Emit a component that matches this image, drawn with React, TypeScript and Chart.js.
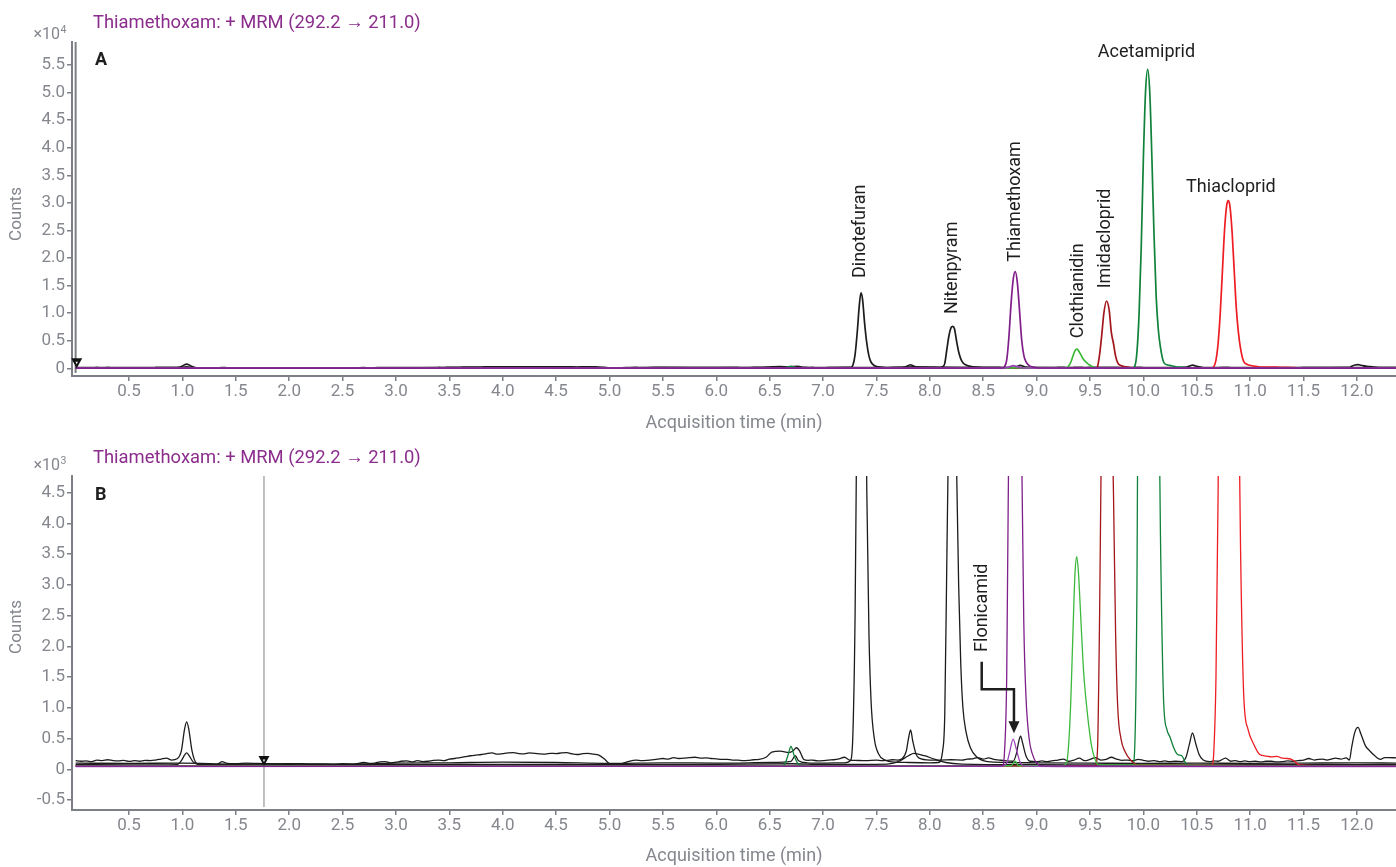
import React, { useEffect, useRef } from 'react';
import { Chart, registerables } from 'chart.js';

Chart.register(...registerables);
Chart.defaults.font.family = 'Roboto';

type Pt = [number, number];

// ---------- DATA (time in min, intensity in counts) ----------
const thiamethoxamSeries: Pt[] = [
  [0, 50], [2, 48], [4, 52], [6, 50], [8.0, 50], [8.68, 55], [8.70, 300], [8.72, 1500], [8.74, 5500],
  [8.76, 11500], [8.78, 16000], [8.80, 17540], [8.82, 15500], [8.84, 10500], [8.86, 5200], [8.88, 2400],
  [8.90, 1200], [8.93, 500], [8.96, 250], [9.00, 100], [9.05, 55], [10, 50], [12.37, 50],
];

const flonicamidSeries: Pt[] = [
  [0, 45], [8.66, 48], [8.72, 100], [8.75, 300], [8.78, 490], [8.81, 330], [8.84, 140], [8.88, 55],
  [9.2, 45], [12.37, 45],
];

const clothianidinSeries: Pt[] = [
  [0, 55], [3, 55], [6, 55], [8.76, 58], [8.80, 130], [8.83, 60], [9.25, 60], [9.28, 100], [9.30, 400],
  [9.32, 1100], [9.34, 2200], [9.36, 3200], [9.376, 3460], [9.39, 3250], [9.40, 2950], [9.42, 2250],
  [9.44, 1600], [9.47, 1000], [9.50, 550], [9.52, 330], [9.55, 150], [9.58, 70], [12.37, 55],
];

const imidaclopridSeries: Pt[] = [
  [0, 55], [5, 55], [9.50, 55], [9.55, 60], [9.57, 300], [9.59, 2500], [9.61, 6000], [9.63, 10000],
  [9.655, 12200], [9.68, 10500], [9.70, 6500], [9.72, 4500], [9.74, 2200], [9.76, 1000], [9.79, 500],
  [9.83, 280], [9.88, 150], [9.95, 70], [12.37, 55],
];

const acetamipridSeries: Pt[] = [
  [0, 55], [6.6, 55], [6.64, 80], [6.67, 220], [6.70, 370], [6.73, 220], [6.77, 80], [6.82, 55],
  [9.88, 55], [9.90, 60], [9.92, 400], [9.94, 3000], [9.96, 10000], [9.98, 22000], [10.00, 38000],
  [10.02, 50000], [10.04, 54200], [10.06, 50000], [10.08, 38000], [10.10, 24000], [10.12, 13000],
  [10.14, 7000], [10.16, 3800], [10.19, 1100], [10.22, 650], [10.25, 520], [10.28, 370], [10.32, 240],
  [10.36, 220], [10.39, 120], [10.41, 60], [12.37, 55],
];

const thiaclopridSeries: Pt[] = [
  [0, 60], [4, 60], [8, 60], [10.64, 60], [10.66, 300], [10.68, 1500], [10.70, 4500], [10.72, 10000],
  [10.74, 17500], [10.76, 25000], [10.78, 29500], [10.795, 30400], [10.81, 29500], [10.83, 25000],
  [10.85, 18000], [10.87, 11000], [10.89, 6500], [10.91, 3600], [10.94, 1200], [10.98, 650],
  [11.03, 420], [11.09, 240], [11.15, 215], [11.2, 200], [11.25, 210], [11.3, 180], [11.35, 175],
  [11.4, 150], [11.46, 70], [11.6, 60], [12.37, 60],
];

const dinotefuranNitenpyramSeries: Pt[] = [
  [0, 100], [0.5, 95], [1.0, 100], [1.5, 85], [2.0, 90], [2.5, 85], [3.0, 100], [3.5, 105], [4.0, 115],
  [4.5, 110], [5.0, 95], [5.5, 105], [6.0, 100], [6.5, 110], [6.7, 130], [6.74, 220], [6.77, 140],
  [6.85, 105], [7.0, 100], [7.2, 105], [7.26, 150], [7.28, 600], [7.30, 2500], [7.32, 6500],
  [7.34, 11500], [7.355, 13700], [7.37, 12500], [7.39, 8000], [7.41, 4500], [7.43, 2200], [7.45, 1100],
  [7.48, 500], [7.52, 250], [7.58, 150], [7.65, 120], [7.8, 110], [8.0, 105], [8.08, 110], [8.12, 300],
  [8.14, 900], [8.16, 3500], [8.18, 6000], [8.20, 7400], [8.215, 7600], [8.23, 7200], [8.25, 5000],
  [8.27, 3000], [8.29, 1700], [8.31, 1000], [8.34, 600], [8.38, 350], [8.44, 200], [8.5, 140],
  [8.6, 115], [9.0, 105], [9.5, 100], [10.0, 95], [10.5, 100], [11.0, 95], [11.5, 100], [12.0, 105],
  [12.37, 100],
];

const blackNoiseSeries: Pt[] = [
  [0.0, 140], [0.05, 130], [0.1, 135], [0.15, 125], [0.2, 150], [0.25, 140], [0.3, 155], [0.35, 140],
  [0.4, 135], [0.45, 145], [0.5, 128], [0.55, 140], [0.6, 130], [0.65, 145], [0.7, 140], [0.75, 150],
  [0.8, 165], [0.85, 180], [0.9, 150], [0.95, 170], [0.99, 300], [1.02, 650], [1.04, 770], [1.06, 650],
  [1.09, 300], [1.13, 100], [1.18, 70], [1.25, 65], [1.32, 70], [1.37, 125], [1.42, 95], [1.5, 90],
  [1.6, 100], [1.7, 95], [1.8, 90], [1.9, 85], [2.0, 80], [2.1, 90], [2.2, 80], [2.3, 85], [2.4, 80],
  [2.5, 90], [2.6, 85], [2.7, 110], [2.75, 95], [2.8, 100], [2.85, 120], [2.9, 125], [2.95, 105],
  [3.0, 115], [3.05, 130], [3.1, 135], [3.15, 120], [3.2, 140], [3.25, 125], [3.3, 130], [3.35, 145],
  [3.4, 150], [3.45, 140], [3.5, 165], [3.55, 175], [3.6, 190], [3.65, 205], [3.7, 220], [3.75, 230],
  [3.8, 240], [3.85, 255], [3.9, 265], [3.95, 245], [4.0, 255], [4.05, 265], [4.1, 270], [4.15, 255],
  [4.2, 250], [4.25, 265], [4.3, 260], [4.35, 250], [4.4, 245], [4.45, 260], [4.5, 255], [4.55, 265],
  [4.6, 270], [4.65, 250], [4.7, 240], [4.75, 255], [4.8, 260], [4.85, 245], [4.9, 230], [4.95, 170],
  [5.0, 90], [5.05, 70], [5.15, 110], [5.25, 150], [5.3, 140], [5.35, 145], [5.45, 165], [5.5, 175],
  [5.55, 165], [5.6, 190], [5.65, 175], [5.7, 180], [5.75, 190], [5.8, 195], [5.85, 180], [5.9, 185],
  [5.95, 175], [6.0, 170], [6.05, 160], [6.1, 160], [6.15, 150], [6.2, 150], [6.25, 140], [6.3, 145],
  [6.35, 155], [6.4, 160], [6.47, 200], [6.52, 280], [6.6, 295], [6.68, 270], [6.72, 300], [6.75, 350],
  [6.78, 300], [6.82, 160], [6.86, 145], [6.9, 150], [6.95, 135], [7.0, 140], [7.05, 150], [7.1, 155],
  [7.15, 170], [7.2, 195], [7.25, 150], [7.3, 145], [7.4, 140], [7.5, 150], [7.55, 140], [7.6, 145],
  [7.65, 155], [7.7, 150], [7.74, 170], [7.78, 300], [7.8, 500], [7.82, 640], [7.84, 460], [7.87, 250],
  [7.9, 180], [8.0, 150], [8.1, 150], [8.2, 155], [8.3, 150], [8.35, 165], [8.4, 170], [8.45, 190],
  [8.5, 165], [8.55, 185], [8.6, 160], [8.65, 150], [8.7, 140], [8.78, 130], [8.81, 250], [8.835, 470],
  [8.85, 540], [8.87, 420], [8.9, 220], [8.94, 130], [9.0, 125], [9.05, 135], [9.1, 125], [9.15, 140],
  [9.2, 150], [9.25, 165], [9.3, 130], [9.35, 150], [9.4, 180], [9.45, 140], [9.5, 160], [9.55, 190],
  [9.6, 150], [9.65, 160], [9.7, 195], [9.75, 165], [9.8, 145], [9.85, 150], [9.9, 140], [9.95, 160],
  [10.0, 145], [10.05, 130], [10.1, 140], [10.15, 125], [10.2, 135], [10.25, 125], [10.3, 130],
  [10.36, 125], [10.4, 200], [10.43, 400], [10.46, 590], [10.49, 420], [10.52, 250], [10.56, 150],
  [10.62, 125], [10.66, 135], [10.7, 130], [10.77, 180], [10.82, 130], [10.86, 140], [10.9, 125],
  [10.95, 135], [11.0, 125], [11.05, 130], [11.1, 120], [11.15, 130], [11.2, 130], [11.25, 120],
  [11.3, 125], [11.35, 135], [11.4, 130], [11.45, 140], [11.5, 150], [11.55, 175], [11.6, 150],
  [11.64, 160], [11.68, 165], [11.72, 150], [11.75, 160], [11.8, 180], [11.85, 165], [11.9, 185],
  [11.93, 150], [11.95, 350], [11.98, 600], [12.01, 680], [12.04, 560], [12.08, 380], [12.12, 300],
  [12.16, 230], [12.22, 160], [12.26, 190], [12.3, 190], [12.37, 185],
];

const blackLowSeries: Pt[] = [
  [0, 75], [0.5, 70], [0.95, 75], [0.99, 140], [1.02, 230], [1.04, 265], [1.06, 230], [1.1, 120],
  [1.15, 75], [2, 70], [3, 75], [4, 80], [5, 75], [6, 80], [6.7, 90], [7.0, 80], [7.6, 85], [7.7, 120],
  [7.8, 220], [7.85, 260], [7.95, 220], [8.05, 160], [8.15, 110], [8.3, 85], [9, 75], [10, 70], [11, 75],
  [12.37, 75],
];

// x-axis tick step (min) and per-panel y tick steps (counts)
const xTickStep = 0.5;
const yTickStepA = 5000;
const yTickStepB = 500;

// cursor / marker times
const cursorTimesA = [0];
const cursorTimesB = [1.764];
const markerA: Pt[] = [[0.01, 0]];
const markerB: Pt[] = [[1.764, 54]];

// peak labels: [text, time, counts, rotated]
const peakLabelsA: [string, number, number, boolean][] = [
  ['Dinotefuran', 7.351, 16373, true],
  ['Nitenpyram', 8.208, 9846, true],
  ['Thiamethoxam', 8.802, 19329, true],
  ['Clothianidin', 9.397, 5440, true],
  ['Imidacloprid', 9.645, 14506, true],
  ['Acetamiprid', 10.029, 56500, false],
  ['Thiacloprid', 10.82, 32022, false],
];
const peakLabelsB: [string, number, number, boolean][] = [['Flonicamid', 8.489, 1909, true]];
const flonicamidArrow: Pt[] = [[8.486, 1751], [8.486, 1302], [8.788, 1302], [8.788, 586]];

// ---------- STYLE ----------
const AXIS_GRAY = '#7c7f85';
const TICK_GRAY = '#84878d';
const TITLE_PURPLE = '#8b2d8c';
const TEXT_DARK = '#1e1e1e';

const seriesDefs = [
  { pts: thiamethoxamSeries, color: '#7f1f8a' },
  { pts: flonicamidSeries, color: '#9a45b5' },
  { pts: clothianidinSeries, color: '#3cb93c' },
  { pts: imidaclopridSeries, color: '#a3161c' },
  { pts: acetamipridSeries, color: '#10823a' },
  { pts: thiaclopridSeries, color: '#ee1d23' },
  { pts: dinotefuranNitenpyramSeries, color: '#1c1c1c' },
  { pts: blackNoiseSeries, color: '#1c1c1c' },
  { pts: blackLowSeries, color: '#1c1c1c' },
];

const X_MIN = -0.034;
const X_MAX = 12.366;

interface Panel {
  name: string;
  height: number;
  padTop: number;
  xAxisHeight: number;
  xTitlePad: number;
  yMin: number;
  yMax: number;
  yStep: number;
  div: number;
  exp: string;
  lineWidth: number;
  letter: string;
  titleBaseline: number;
  expBaseline: number;
  letterBaseline: number;
  yTitleCenter: number;
  cursors: number[];
  cursorColor: string;
  markers: Pt[];
  labels: [string, number, number, boolean][];
  arrow: Pt[] | null;
}

const panels: Panel[] = [
  {
    name: 'A', height: 440, padTop: 42, xAxisHeight: 64, xTitlePad: 6,
    yMin: -1396, yMax: 59170, yStep: yTickStepA, div: 10000, exp: '4', lineWidth: 1.7,
    letter: 'A', titleBaseline: 28, expBaseline: 38.5, letterBaseline: 65, yTitleCenter: 214,
    cursors: cursorTimesA, cursorColor: AXIS_GRAY, markers: markerA, labels: peakLabelsA, arrow: null,
  },
  {
    name: 'B', height: 427, padTop: 36, xAxisHeight: 57, xTitlePad: 0,
    yMin: -663, yMax: 4772, yStep: yTickStepB, div: 1000, exp: '3', lineWidth: 1.3,
    letter: 'B', titleBaseline: 22.5, expBaseline: 29.5, letterBaseline: 60, yTitleCenter: 187,
    cursors: cursorTimesB, cursorColor: '#a9abb0', markers: markerB, labels: peakLabelsB, arrow: flonicamidArrow,
  },
];

function fmtY(v: number, div: number) {
  if (Math.abs(v) < 1e-9) return '0';
  return (v / div).toFixed(1);
}

function stepTicks(min: number, max: number, step: number, skipZero: boolean) {
  const out: { value: number }[] = [];
  for (let k = Math.ceil(min / step - 1e-9); k * step <= max + 1e-9; k++) {
    if (skipZero && k === 0) continue;
    out.push({ value: Math.round(k * step * 1000) / 1000 });
  }
  return out;
}

function makeOverlay(p: Panel) {
  return {
    id: 'overlay' + p.name,
    beforeDatasetsDraw(chart: any) {
      const { ctx, chartArea, scales } = chart;
      ctx.save();
      for (const t of p.cursors) {
        const px = scales.x.getPixelForValue(t);
        ctx.strokeStyle = p.cursorColor;
        ctx.lineWidth = p.name === 'A' ? 2 : 1.5;
        ctx.beginPath();
        ctx.moveTo(px, chartArea.top);
        ctx.lineTo(px, chartArea.bottom - 3);
        ctx.stroke();
      }
      ctx.restore();
    },
    afterDraw(chart: any) {
      const { ctx, scales } = chart;
      const xs = scales.x;
      const ys = scales.y;
      ctx.save();
      // title
      ctx.fillStyle = TITLE_PURPLE;
      ctx.font = '18.4px Roboto';
      ctx.textAlign = 'left';
      ctx.textBaseline = 'alphabetic';
      ctx.fillText('Thiamethoxam: + MRM (292.2 \u2192 211.0)', 93, p.titleBaseline);
      // exponent
      ctx.fillStyle = TICK_GRAY;
      ctx.font = '16px Roboto';
      ctx.textAlign = 'right';
      ctx.fillText('\u00d710', 60, p.expBaseline);
      ctx.font = '10.5px Roboto';
      ctx.textAlign = 'left';
      ctx.fillText(p.exp, 60.5, p.expBaseline - 5.5);
      // panel letter
      ctx.fillStyle = TEXT_DARK;
      ctx.font = 'bold 18px Roboto';
      ctx.fillText(p.letter, 95, p.letterBaseline);
      // y title
      ctx.save();
      ctx.translate(17, p.yTitleCenter);
      ctx.rotate(-Math.PI / 2);
      ctx.textAlign = 'center';
      ctx.textBaseline = 'middle';
      ctx.fillStyle = TICK_GRAY;
      ctx.font = '17px Roboto';
      ctx.fillText('Counts', 0, 0);
      ctx.restore();
      // peak labels
      ctx.fillStyle = TEXT_DARK;
      ctx.font = '18px Roboto';
      for (const [text, t, c, rot] of p.labels) {
        const px = xs.getPixelForValue(t);
        const py = ys.getPixelForValue(c);
        if (rot) {
          ctx.save();
          ctx.translate(px, py);
          ctx.rotate(-Math.PI / 2);
          ctx.textAlign = 'left';
          ctx.textBaseline = 'middle';
          ctx.fillText(text, 0, 0);
          ctx.restore();
        } else {
          ctx.textAlign = 'center';
          ctx.textBaseline = 'alphabetic';
          ctx.fillText(text, px, py);
        }
      }
      // arrow
      if (p.arrow) {
        const pts = p.arrow.map(([t, c]) => [xs.getPixelForValue(t), ys.getPixelForValue(c)]);
        const tip = pts[pts.length - 1];
        ctx.strokeStyle = TEXT_DARK;
        ctx.lineWidth = 2.5;
        ctx.beginPath();
        ctx.moveTo(pts[0][0], pts[0][1]);
        for (let i = 1; i < pts.length - 1; i++) ctx.lineTo(pts[i][0], pts[i][1]);
        ctx.lineTo(tip[0], tip[1] - 10);
        ctx.stroke();
        ctx.fillStyle = TEXT_DARK;
        ctx.beginPath();
        ctx.moveTo(tip[0], tip[1]);
        ctx.lineTo(tip[0] - 5.5, tip[1] - 12);
        ctx.lineTo(tip[0] + 5.5, tip[1] - 12);
        ctx.closePath();
        ctx.fill();
      }
      // markers
      for (const [t, c] of p.markers) {
        const px = xs.getPixelForValue(t);
        const py = ys.getPixelForValue(c);
        ctx.fillStyle = '#111';
        ctx.beginPath();
        ctx.moveTo(px, py);
        ctx.lineTo(px - 5.5, py - 10);
        ctx.lineTo(px + 5.5, py - 10);
        ctx.closePath();
        ctx.fill();
        ctx.fillStyle = '#fff';
        ctx.beginPath();
        ctx.moveTo(px, py - 4);
        ctx.lineTo(px - 1.2, py - 6.5);
        ctx.lineTo(px + 1.2, py - 6.5);
        ctx.closePath();
        ctx.fill();
      }
      ctx.restore();
    },
  };
}

function buildChart(canvas: HTMLCanvasElement, p: Panel) {
  return new Chart(canvas, {
    type: 'line',
    data: {
      datasets: seriesDefs.map((s) => ({
        data: s.pts.map(([t, c]) => ({ x: t, y: c })),
        borderColor: s.color,
        borderWidth: p.lineWidth,
        pointRadius: 0,
        cubicInterpolationMode: 'monotone' as const,
        fill: false,
      })),
    },
    options: {
      responsive: false,
      animation: false,
      events: [],
      layout: { padding: { top: p.padTop, left: 0, right: 0, bottom: 0 } },
      plugins: { legend: { display: false }, tooltip: { enabled: false }, title: { display: false } },
      scales: {
        x: {
          type: 'linear',
          min: X_MIN,
          max: X_MAX,
          afterFit: (s: any) => { s.height = p.xAxisHeight; },
          afterBuildTicks: (s: any) => { s.ticks = stepTicks(X_MIN, X_MAX, xTickStep, true); },
          grid: { display: true, drawOnChartArea: false, drawTicks: true, tickLength: 5, color: AXIS_GRAY, lineWidth: 1.5 },
          border: { display: true, color: AXIS_GRAY, width: 2 },
          ticks: {
            autoSkip: false, maxRotation: 0, minRotation: 0,
            padding: 1, color: TICK_GRAY, font: { size: 17 },
            callback: (v: any) => Number(v).toFixed(1),
          },
          title: { display: true, text: 'Acquisition time (min)', color: TICK_GRAY, font: { size: 18 }, padding: { top: 0, bottom: p.xTitlePad } },
        },
        y: {
          type: 'linear',
          min: p.yMin,
          max: p.yMax,
          afterFit: (s: any) => { s.width = 72; },
          afterBuildTicks: (s: any) => { s.ticks = stepTicks(p.yMin, p.yMax, p.yStep, false); },
          grid: { display: true, drawOnChartArea: false, drawTicks: true, tickLength: 5, color: AXIS_GRAY, lineWidth: 1.5 },
          border: { display: true, color: AXIS_GRAY, width: 2 },
          ticks: {
            autoSkip: false, padding: 2, color: TICK_GRAY, font: { size: 17 },
            callback: (v: any) => fmtY(Number(v), p.div),
          },
        },
      },
    },
    plugins: [makeOverlay(p)],
  } as any);
}

export default function App() {
  const refA = useRef<HTMLCanvasElement | null>(null);
  const refB = useRef<HTMLCanvasElement | null>(null);
  useEffect(() => {
    const charts: Chart[] = [];
    if (refA.current) charts.push(buildChart(refA.current, panels[0]));
    if (refB.current) charts.push(buildChart(refB.current, panels[1]));
    return () => charts.forEach((c) => c.destroy());
  }, []);
  return (
    <div style={{ position: 'fixed', left: 0, top: 0, width: 1396, height: 867, background: '#fff', overflow: 'hidden' }}>
      <div style={{ position: 'absolute', left: 0, top: 0, width: 1396, height: 440 }}>
        <canvas ref={refA} width={1396} height={440} style={{ width: 1396, height: 440, display: 'block' }} />
      </div>
      <div style={{ position: 'absolute', left: 0, top: 440, width: 1396, height: 427 }}>
        <canvas ref={refB} width={1396} height={427} style={{ width: 1396, height: 427, display: 'block' }} />
      </div>
    </div>
  );
}
